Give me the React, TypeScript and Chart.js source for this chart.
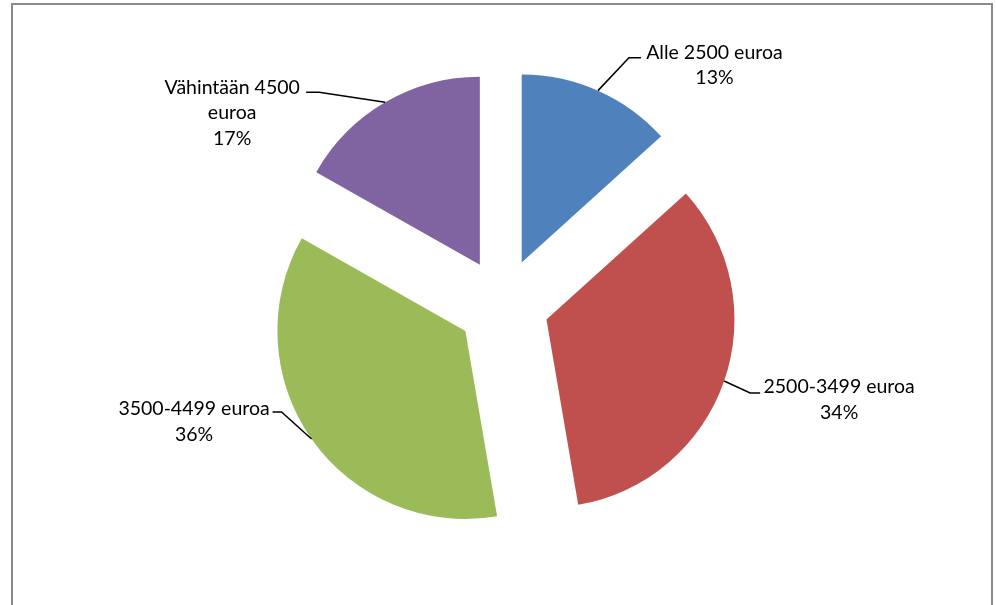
import React, { useEffect, useRef } from "react";
import { Chart, registerables } from "chart.js";

Chart.register(...registerables);

// ---- data ----
const categories = ["Alle 2500 euroa", "2500-3499 euroa", "3500-4499 euroa", "Vähintään 4500 euroa"];
const categoryLines = [["Alle 2500 euroa"], ["2500-3499 euroa"], ["3500-4499 euroa"], ["Vähintään 4500", "euroa"]];
const shares = [13.3, 34.0, 35.9, 16.8];
const colors = ["#4F81BD", "#C0504D", "#9BBB59", "#8064A2"];

// ---- layout / style ----
const RADIUS = 188;
const EXPLODE = 46;
const FONT = "19.5px Lato";
const LINE_H = 25.5;
// per-slice label layout, relative to the leader anchor on the slice's outer edge
const labelLayout = [
  { elbow: [31, -33], end: [43, -33], text: [116.5, -38] },
  { elbow: [26, 12], end: [36, 12], text: [115, 6] },
  { elbow: [-30, -27], end: [-39, -27], text: [-117.5, -30] },
  { elbow: [-66, -10], end: [-79, -10], text: [-153, -15] },
];

const explodePlugin = {
  id: "explode",
  afterUpdate(chart: any) {
    const meta = chart.getDatasetMeta(0);
    meta.data.forEach((arc: any) => {
      const mid = (arc.startAngle + arc.endAngle) / 2;
      arc.x += Math.cos(mid) * EXPLODE;
      arc.y += Math.sin(mid) * EXPLODE;
    });
  },
};

const framePlugin = {
  id: "frame",
  beforeDraw(chart: any) {
    const ctx = chart.ctx;
    ctx.save();
    ctx.fillStyle = "#ffffff";
    ctx.fillRect(0, 0, chart.width, chart.height);
    ctx.strokeStyle = "#8a8a8a";
    ctx.lineWidth = 2;
    ctx.strokeRect(12, 4, 980, 700);
    ctx.restore();
  },
};

const labelPlugin = {
  id: "pieLabels",
  afterDatasetsDraw(chart: any) {
    const ctx = chart.ctx;
    const meta = chart.getDatasetMeta(0);
    ctx.save();
    meta.data.forEach((arc: any, i: number) => {
      const mid = (arc.startAngle + arc.endAngle) / 2;
      const ax = arc.x + Math.cos(mid) * arc.outerRadius;
      const ay = arc.y + Math.sin(mid) * arc.outerRadius;
      const L = labelLayout[i];
      ctx.strokeStyle = "#000000";
      ctx.lineWidth = 1.5;
      ctx.beginPath();
      ctx.moveTo(ax, ay);
      ctx.lineTo(ax + L.elbow[0], ay + L.elbow[1]);
      ctx.lineTo(ax + L.end[0], ay + L.end[1]);
      ctx.stroke();
      const lines = [...categoryLines[i], `${Math.round(shares[i])}%`];
      ctx.fillStyle = "#000000";
      ctx.font = FONT;
      ctx.textAlign = "center";
      ctx.textBaseline = "middle";
      lines.forEach((t, k) => {
        ctx.fillText(t, ax + L.text[0], ay + L.text[1] + k * LINE_H);
      });
    });
    ctx.restore();
  },
};

export default function App() {
  const ref = useRef<HTMLCanvasElement | null>(null);
  useEffect(() => {
    if (!ref.current) return;
    const chart = new Chart(ref.current, {
      type: "pie",
      data: {
        labels: categories,
        datasets: [
          {
            data: shares,
            backgroundColor: colors,
            borderWidth: 0,
            hoverOffset: 0,
          },
        ],
      },
      options: {
        animation: false,
        responsive: false,
        radius: RADIUS,
        layout: { padding: { left: 19, right: 9, top: 10, bottom: 6 } },
        plugins: {
          legend: { display: false },
          tooltip: { enabled: false },
        },
        events: [],
      } as any,
      plugins: [framePlugin, explodePlugin, labelPlugin],
    });
    return () => chart.destroy();
  }, []);
  return (
    <div style={{ position: "fixed", left: 0, top: 0, width: 996, height: 605, background: "#fff" }}>
      <canvas ref={ref} width={996} height={605} style={{ display: "block", width: 996, height: 605 }} />
    </div>
  );
}
